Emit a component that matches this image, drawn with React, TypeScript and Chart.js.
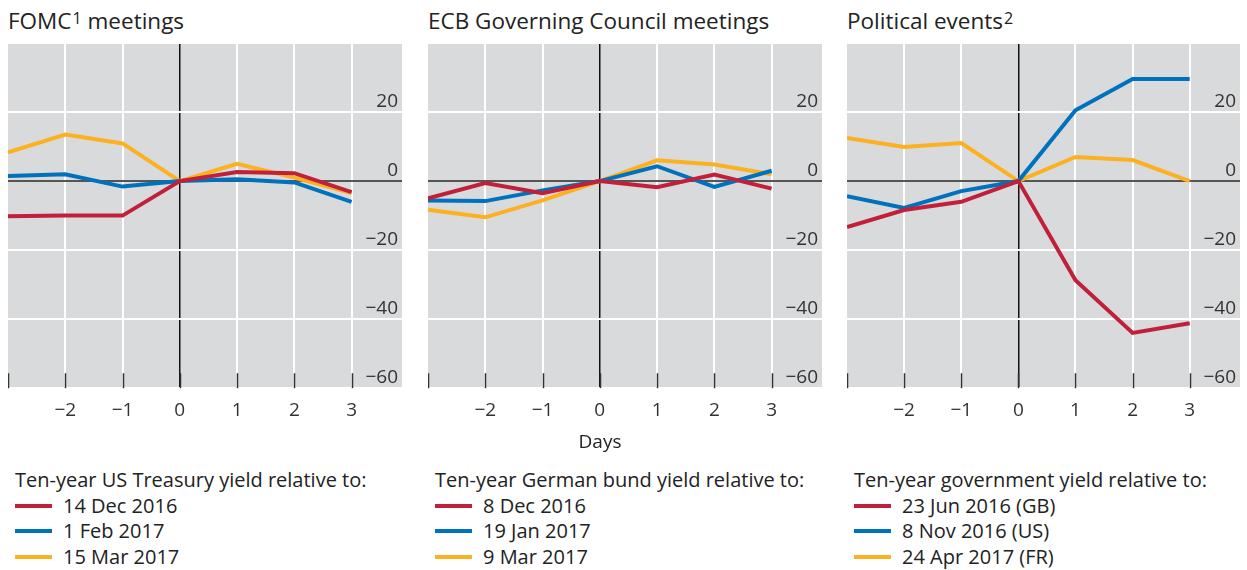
import React, { useEffect, useRef } from 'react';
import { Chart, registerables } from 'chart.js';
Chart.register(...registerables);

// ---------- data ----------
const days = [-3, -2, -1, 0, 1, 2, 3];
const xTickMarks = [-3, -2, -1, 0, 1, 2, 3];
const xTickLabels = [-2, -1, 0, 1, 2, 3];
const yTicks = [-60, -40, -20, 0, 20, 40];
const yTickLabels = [-60, -40, -20, 0, 20];

const fomcTitle = 'FOMC';
const fomcLegendTitle = 'Ten-year US Treasury yield relative to:';
const fomcLabels = ['14 Dec 2016', '1 Feb 2017', '15 Mar 2017'];
const fomcDec2016 = [-10.2, -10.0, -10.0, 0, 2.6, 2.3, -3.2];
const fomcFeb2017 = [1.5, 2.0, -1.6, 0, 0.5, -0.4, -6.0];
const fomcMar2017 = [8.3, 13.5, 10.9, 0, 5.0, 1.0, -3.5];

const ecbTitle = 'ECB Governing Council meetings';
const ecbLegendTitle = 'Ten-year German bund yield relative to:';
const ecbLabels = ['8 Dec 2016', '19 Jan 2017', '9 Mar 2017'];
const ecbDec2016 = [-5.0, -0.6, -3.5, 0, -1.8, 1.9, -2.2];
const ecbJan2017 = [-5.6, -5.8, -2.7, 0, 4.3, -1.7, 3.0];
const ecbMar2017 = [-8.3, -10.5, -5.6, 0, 6.0, 4.8, 2.0];

const polTitle = 'Political events';
const polLegendTitle = 'Ten-year government yield relative to:';
const polLabels = ['23 Jun 2016 (GB)', '8 Nov 2016 (US)', '24 Apr 2017 (FR)'];
const polGB = [-13.3, -8.4, -6.0, 0, -28.7, -44.0, -41.2];
const polUS = [-4.4, -7.8, -2.9, 0, 20.5, 29.6, 29.6];
const polFR = [12.5, 9.9, 11.0, 0, 7.0, 6.1, 0];

const xAxisTitle = 'Days';

// ---------- style ----------
const RED = '#c1203a';
const BLUE = '#0071bd';
const YELLOW = '#fcb120';
const colors = [RED, BLUE, YELLOW];
const FONT = '"Open Sans", "Noto Sans", sans-serif';
const TEXT = '#222222';
const TICK_FONT_SIZE = 19;

const fmt = (v: number) => (v < 0 ? '\u2212' + Math.abs(v) : String(v));

const decorPlugin = {
  id: 'decor',
  beforeDraw(chart: any) {
    const { ctx, chartArea: a } = chart;
    ctx.save();
    ctx.fillStyle = '#d9dadc';
    ctx.fillRect(a.left, a.top, a.right - a.left, a.bottom - a.top);
    ctx.restore();
  },
  beforeDatasetsDraw(chart: any) {
    const { ctx, chartArea: a, scales } = chart;
    const x = scales.x;
    ctx.save();
    ctx.strokeStyle = '#333333';
    ctx.lineWidth = 1.5;
    xTickMarks.forEach((v) => {
      const px = Math.round(x.getPixelForValue(v)) + 0.5;
      ctx.beginPath();
      ctx.moveTo(px, a.bottom);
      ctx.lineTo(px, a.bottom - 15);
      ctx.stroke();
    });
    ctx.restore();
  },
  afterDatasetsDraw(chart: any) {
    // y tick labels, drawn inside the plot area above their grid lines
    const { ctx, chartArea: a, scales } = chart;
    const y = scales.y;
    ctx.save();
    ctx.fillStyle = '#333333';
    ctx.font = `${TICK_FONT_SIZE}px ${FONT}`;
    ctx.textAlign = 'right';
    ctx.textBaseline = 'alphabetic';
    yTickLabels.forEach((v) => {
      const py = y.getPixelForValue(v);
      ctx.fillText(fmt(v), a.right - 4, py - 5);
    });
    ctx.restore();
  },
};

type PanelProps = {
  left: number;
  width: number;
  title: React.ReactNode;
  legendTitle: string;
  labels: string[];
  series: number[][];
};

function Panel({ left, width, title, legendTitle, labels, series }: PanelProps) {
  const ref = useRef<HTMLCanvasElement | null>(null);
  const H = 390;
  useEffect(() => {
    if (!ref.current) return;
    const chart = new Chart(ref.current, {
      type: 'line',
      data: {
        labels: days,
        datasets: series.map((s, i) => ({
          label: labels[i],
          data: days.map((d, j) => ({ x: d, y: s[j] })),
          borderColor: colors[i],
          backgroundColor: colors[i],
          borderWidth: 4,
          pointRadius: 0,
          tension: 0,
          fill: false,
        })),
      },
      options: {
        animation: false,
        responsive: false,
        maintainAspectRatio: false,
        layout: { padding: 0 },
        plugins: { legend: { display: false }, tooltip: { enabled: false } },
        scales: {
          x: {
            type: 'linear',
            min: -3,
            max: 3.88,
            afterBuildTicks: (s: any) => {
              s.ticks = xTickLabels.map((v) => ({ value: v }));
            },
            grid: {
              color: (c: any) => (c.tick && c.tick.value === 0 ? '#111111' : '#ffffff'),
              lineWidth: (c: any) => (c.tick && c.tick.value === 0 ? 1.5 : 2),
              drawTicks: false,
            },
            border: { display: false },
            ticks: {
              autoSkip: false,
              maxRotation: 0,
              padding: 11,
              color: '#333333',
              font: { family: FONT, size: TICK_FONT_SIZE },
              callback: (v: any) => fmt(Number(v)),
            },
          },
          y: {
            type: 'linear',
            position: 'right',
            min: -60,
            max: 40,
            afterBuildTicks: (s: any) => {
              s.ticks = yTicks.map((v) => ({ value: v }));
            },
            grid: {
              color: (c: any) => (c.tick && c.tick.value === 0 ? '#555555' : '#ffffff'),
              lineWidth: 2,
              drawTicks: false,
            },
            border: { display: false },
            ticks: { display: false },
          },
        },
      },
      plugins: [decorPlugin],
    } as any);
    return () => chart.destroy();
  }, []);

  return (
    <>
      <div
        style={{
          position: 'absolute',
          left,
          top: 8,
          fontFamily: FONT,
          fontSize: 22.5,
          lineHeight: '26px',
          color: TEXT,
          whiteSpace: 'nowrap',
        }}
      >
        {title}
      </div>
      <canvas
        ref={ref}
        width={width}
        height={H}
        style={{ position: 'absolute', left, top: 43, width, height: H }}
      />
      <div
        style={{
          position: 'absolute',
          left: left + 7,
          top: 467,
          fontFamily: FONT,
          fontSize: 20,
          lineHeight: '25.7px',
          color: TEXT,
          whiteSpace: 'nowrap',
        }}
      >
        <div>{legendTitle}</div>
        {labels.map((l, i) => (
          <div key={l} style={{ display: 'flex', alignItems: 'center' }}>
            <span
              style={{
                display: 'inline-block',
                width: 37,
                height: 4,
                background: colors[i],
                marginRight: 11,
              }}
            />
            <span>{l}</span>
          </div>
        ))}
      </div>
    </>
  );
}

export default function App() {
  const sup = { fontSize: 16, verticalAlign: 'top', position: 'relative' as const, top: -3, marginLeft: 1 };
  return (
    <div style={{ position: 'absolute', left: 0, top: 0, width: 1247, height: 570, background: '#fff' }}>
      <Panel
        left={8}
        width={394}
        title={<span>{fomcTitle}<span style={sup}>1</span> meetings</span>}
        legendTitle={fomcLegendTitle}
        labels={fomcLabels}
        series={[fomcDec2016, fomcFeb2017, fomcMar2017]}
      />
      <Panel
        left={428}
        width={394}
        title={<span>{ecbTitle}</span>}
        legendTitle={ecbLegendTitle}
        labels={ecbLabels}
        series={[ecbDec2016, ecbJan2017, ecbMar2017]}
      />
      <Panel
        left={847}
        width={393}
        title={<span>{polTitle}<span style={sup}>2</span></span>}
        legendTitle={polLegendTitle}
        labels={polLabels}
        series={[polGB, polUS, polFR]}
      />
      <div
        style={{
          position: 'absolute',
          left: 560,
          width: 80,
          textAlign: 'center',
          top: 429,
          fontFamily: FONT,
          fontSize: 19,
          lineHeight: '24px',
          color: TEXT,
        }}
      >
        {xAxisTitle}
      </div>
    </div>
  );
}
